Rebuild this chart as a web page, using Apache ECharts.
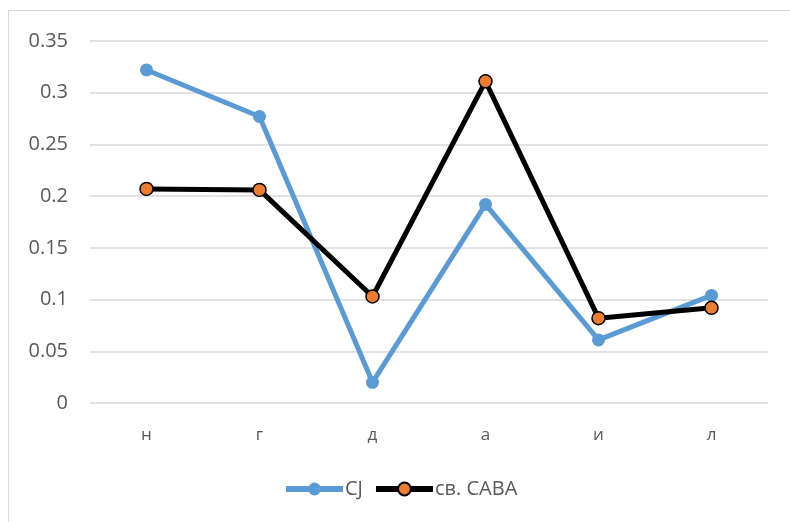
<!DOCTYPE html>
<html>
<head>
<meta charset="utf-8">
<script src="https://cdn.jsdelivr.net/npm/echarts@6/dist/echarts.min.js"></script>
<style>
  html, body { margin: 0; padding: 0; background: #fff; }
  #frame { position: absolute; left: 8px; top: 10px; width: 800px; height: 530px; border: 1.5px solid #d9d9d9; box-sizing: border-box; }
  #chart { position: absolute; left: 0; top: 0; width: 790px; height: 522px; }
</style>
</head>
<body>
<div id="frame"></div>
<div id="chart"></div>
<script>
const categories = ['н', 'г', 'д', 'а', 'и', 'л'];
const cjValues = [0.322, 0.277, 0.020, 0.192, 0.061, 0.104];
const cabaValues = [0.207, 0.206, 0.103, 0.311, 0.082, 0.092];
const yTicks = [0, 0.05, 0.1, 0.15, 0.2, 0.25, 0.3, 0.35];

const font = '"Open Sans", "Noto Sans", sans-serif';
const chart = echarts.init(document.getElementById('chart'), null, { renderer: 'canvas' });

chart.setOption({
  animation: false,
  backgroundColor: 'transparent',
  grid: { left: 90, right: 22, top: 41, bottom: 119 },
  legend: {
    top: 479,
    left: 283,
    padding: 0,
    itemWidth: 57,
    itemHeight: 16,
    itemGap: 10,
    lineStyle: { width: 6 },
    textStyle: { fontFamily: font, fontSize: 20, color: '#595959', padding: [0, 0, 0, -3] },
    data: ['CJ', 'св. САВА']
  },
  xAxis: {
    type: 'category',
    data: categories,
    boundaryGap: true,
    axisLine: { show: false },
    axisTick: { show: false },
    axisLabel: { fontFamily: font, fontSize: 17, color: '#595959', margin: 24 }
  },
  yAxis: {
    type: 'value',
    min: 0,
    max: 0.35,
    interval: 0.05,
    axisLine: { show: false },
    axisTick: { show: false },
    splitLine: { lineStyle: { color: '#d9d9d9', width: 1.5 } },
    axisLabel: {
      fontFamily: font, fontSize: 20, color: '#595959', margin: 22,
      formatter: v => {
        const t = yTicks.find(x => Math.abs(x - v) < 1e-9);
        return t === undefined ? '' : String(+t.toFixed(2));
      }
    }
  },
  series: [
    {
      name: 'CJ',
      type: 'line',
      data: cjValues,
      symbol: 'circle',
      symbolSize: 13,
      lineStyle: { color: '#5b9bd5', width: 5 },
      itemStyle: { color: '#5b9bd5', borderColor: '#5b9bd5', borderWidth: 0 },
      z: 2
    },
    {
      name: 'св. САВА',
      type: 'line',
      data: cabaValues,
      symbol: 'circle',
      symbolSize: 13,
      lineStyle: { color: '#000000', width: 5 },
      itemStyle: { color: '#ed7d31', borderColor: '#000000', borderWidth: 1.5 },
      z: 3
    }
  ]
});
</script>
</body>
</html>
